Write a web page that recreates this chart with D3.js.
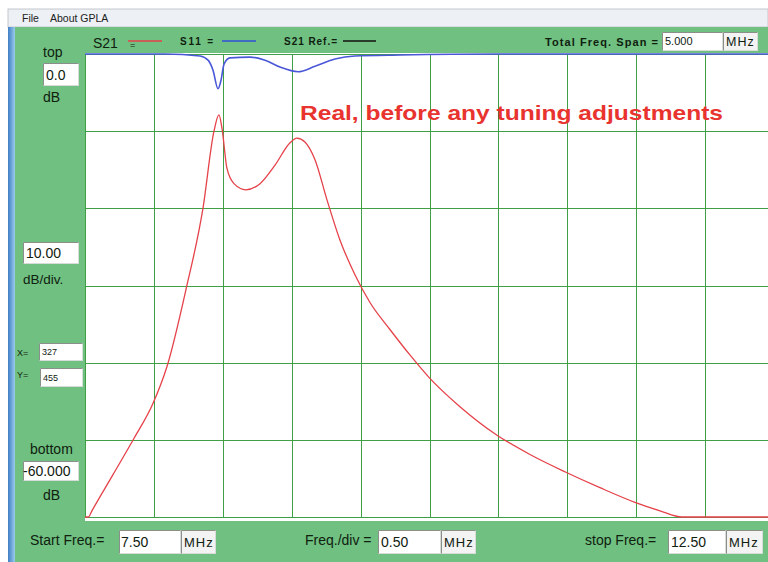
<!DOCTYPE html>
<html>
<head>
<meta charset="utf-8">
<script src="https://cdn.jsdelivr.net/npm/d3@7"></script>
<style>
  body { margin: 0; background: #fff; }
  svg { display: block; font-family: "Liberation Sans", Arial, sans-serif; }
</style>
</head>
<body>
<div class="canvas"></div>
<script>
// frequency grid (MHz) and level grid (dB)
const freqTicks = [7.5, 8.0, 8.5, 9.0, 9.5, 10.0, 10.5, 11.0, 11.5, 12.0, 12.5];
const dbTicks = [0, -10, -20, -30, -40, -50, -60];

// S21 trace
const s21Freq = [7.50, 7.525, 7.55, 7.70, 7.856, 7.993, 8.095, 8.233, 8.356, 8.436, 8.472,
    8.494, 8.530, 8.581, 8.668, 8.770, 8.879, 8.988, 9.038, 9.096, 9.169, 9.256, 9.350,
    9.459, 9.568, 9.713, 9.858, 9.996, 10.221, 10.490, 10.729, 10.990, 11.237, 11.491,
    11.673, 11.832, 12.50];
const s21Db = [-60, -60, -59.2, -54.6, -49.8, -45.3, -40.5, -30.5, -20.0, -10.0, -7.9,
    -9.6, -14.8, -16.8, -17.6, -16.8, -14.4, -11.5, -10.9, -11.4, -13.7, -18.9, -24.1,
    -28.6, -32.2, -35.7, -39.0, -41.9, -45.7, -49.4, -51.9, -54.2, -56.2, -58.1,
    -59.2, -60, -60];

// S11 trace
const s11Freq = [7.5, 8.081, 8.335, 8.393, 8.429, 8.465, 8.487, 8.509, 8.552, 8.697, 8.806,
    8.915, 9.046, 9.169, 9.314, 9.459, 9.786, 10.512, 12.5];
const s11Db = [0, 0, -0.26, -0.8, -2.1, -4.5, -3.4, -1.3, -0.5, -0.4, -0.8,
    -1.7, -2.3, -1.6, -0.65, -0.26, -0.13, 0, 0];

const W = 768, H = 562;
const plot = {left: 85, right: 774, top: 54, bottom: 517};

const svg = d3.select(".canvas").append("svg").attr("width", W).attr("height", H);

// window chrome
svg.append("rect").attr("width", W).attr("height", H).attr("fill", "#ffffff");
svg.append("rect").attr("x", 8).attr("y", 9).attr("width", W - 8).attr("height", 18)
    .attr("fill", "#edf0f4").attr("stroke", "#c4c8ce").attr("stroke-width", 1);
svg.append("text").attr("x", 22).attr("y", 22).attr("font-size", 10.5).attr("fill", "#222").text("File");
svg.append("text").attr("x", 50).attr("y", 22).attr("font-size", 10.5).attr("fill", "#222").text("About GPLA");

const grad = svg.append("defs").append("linearGradient").attr("id", "edge");
grad.append("stop").attr("offset", "0%").attr("stop-color", "#3f7fc6");
grad.append("stop").attr("offset", "100%").attr("stop-color", "#9ccbeb");
svg.append("rect").attr("x", 8).attr("y", 27).attr("width", 7).attr("height", H - 27).attr("fill", "url(#edge)");
svg.append("rect").attr("x", 15).attr("y", 27).attr("width", W - 15).attr("height", H - 27).attr("fill", "#6fc081");

// plot area
svg.append("rect").attr("x", plot.left).attr("y", plot.top - 1)
    .attr("width", W - plot.left).attr("height", plot.bottom - plot.top + 5).attr("fill", "#ffffff");

const x = d3.scaleLinear().domain([7.5, 12.5]).range([plot.left, plot.right]);
const y = d3.scaleLinear().domain([0, -60]).range([plot.top, plot.bottom]);

const gridColor = "#3f9f45";
const xGrid = svg.append("g").attr("transform", `translate(0, ${plot.bottom})`)
    .call(d3.axisBottom(x).tickValues(freqTicks).tickSize(-(plot.bottom - plot.top)).tickFormat(""));
const yGrid = svg.append("g").attr("transform", `translate(${plot.left}, 0)`)
    .call(d3.axisLeft(y).tickValues(dbTicks).tickSize(-(plot.right - plot.left)).tickFormat(""));
[xGrid, yGrid].forEach(g => {
    g.select(".domain").remove();
    g.selectAll("line").attr("stroke", gridColor).attr("stroke-width", 1)
        .attr("shape-rendering", "crispEdges");
});

svg.append("clipPath").attr("id", "clip").append("rect")
    .attr("x", plot.left).attr("y", plot.top - 2).attr("width", W - plot.left).attr("height", plot.bottom - plot.top + 4);

const line = d3.line().x(d => x(d[0])).y(d => y(d[1])).curve(d3.curveMonotoneX);

svg.append("path")
    .datum(d3.zip(s11Freq, s11Db))
    .attr("clip-path", "url(#clip)")
    .attr("d", line)
    .attr("fill", "none").attr("stroke", "#4a58d8").attr("stroke-width", 1.6);

svg.append("path")
    .datum(d3.zip(s21Freq, s21Db))
    .attr("clip-path", "url(#clip)")
    .attr("d", line)
    .attr("fill", "none").attr("stroke", "#e5424a").attr("stroke-width", 1.3);

svg.append("text")
    .attr("x", 300).attr("y", 120)
    .attr("font-size", 21).attr("font-weight", "bold").attr("fill", "#e8332f")
    .attr("textLength", 423).attr("lengthAdjust", "spacingAndGlyphs")
    .text("Real, before any tuning adjustments");

// header legend
const ink = "#10200f";
function label(tx, ty, size, text, weight) {
    return svg.append("text").attr("x", tx).attr("y", ty).attr("font-size", size)
        .attr("font-weight", weight || "normal").attr("fill", ink).text(text);
}
function box(bx, by, bw, bh, fill) {
    svg.append("rect").attr("x", bx + 0.5).attr("y", by + 0.5).attr("width", bw).attr("height", bh)
        .attr("fill", fill || "#ffffff").attr("stroke", "#d8dcd8").attr("stroke-width", 1);
    svg.append("path").attr("d", `M${bx + 0.5},${by + bh + 0.5}V${by + 0.5}H${bx + bw + 0.5}`)
        .attr("fill", "none").attr("stroke", "#8a8f8a").attr("stroke-width", 1);
}

label(93, 48, 14, "S21");
label(130, 48, 9, "=");
svg.append("line").attr("x1", 128).attr("x2", 162).attr("y1", 41).attr("y2", 41).attr("stroke", "#e5424a").attr("stroke-width", 1.5);
label(180, 45, 10, "S11  =", "bold").attr("textLength", 33);
svg.append("line").attr("x1", 222).attr("x2", 256).attr("y1", 41).attr("y2", 41).attr("stroke", "#3050d8").attr("stroke-width", 1.5);
label(284, 45, 10, "S21 Ref.=", "bold").attr("textLength", 53);
svg.append("line").attr("x1", 343).attr("x2", 376).attr("y1", 41).attr("y2", 41).attr("stroke", "#111").attr("stroke-width", 1.5);
label(545, 46, 11, "Total Freq. Span =", "bold").attr("textLength", 113);
box(662, 32, 60, 18);
label(665, 45, 11, "5.000");
box(723, 32, 34, 18, "#f3f3f3");
label(726, 46, 12.5, "MHz").attr("letter-spacing", 1);

// left panel
label(43, 57, 14, "top");
box(43, 63, 35, 22);
label(46, 80, 14, "0.0");
label(43, 102, 14, "dB");
box(23, 242, 55, 21);
label(26, 258, 14, "10.00");
label(23, 284, 13.5, "dB/div.");
label(17, 356, 9, "X=");
box(39, 343, 43, 17);
label(42, 355, 9, "327");
label(17, 378, 9, "Y=");
box(40, 368, 42, 18);
label(43, 381, 9, "455");
label(30, 454, 14, "bottom");
box(23, 461, 55, 19);
label(23, 476, 14, "-60.000");
label(43, 500, 14, "dB");

// bottom controls
label(30, 545, 14, "Start Freq.=");
box(119, 530, 61, 23);
label(121, 547, 14, "7.50");
box(181, 530, 34, 23, "#f3f3f3");
label(184, 547, 13, "MHz").attr("letter-spacing", 1);
label(305, 545, 14, "Freq./div =");
box(378, 530, 62, 23);
label(381, 547, 14, "0.50");
box(441, 530, 34, 23, "#f3f3f3");
label(444, 547, 13, "MHz").attr("letter-spacing", 1);
label(585, 545, 14, "stop Freq.=");
box(668, 530, 57, 23);
label(671, 547, 14, "12.50");
box(726, 530, 36, 23, "#f3f3f3");
label(729, 547, 13, "MHz").attr("letter-spacing", 1);
</script>
</body>
</html>
